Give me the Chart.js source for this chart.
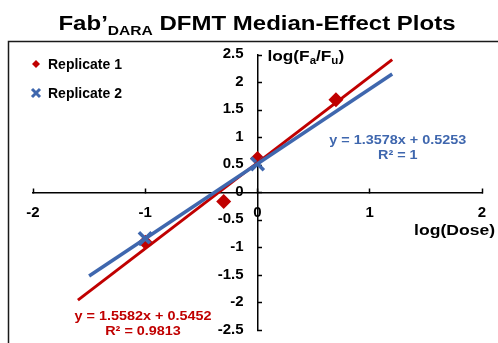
<!DOCTYPE html>
<html>
<head>
<meta charset="utf-8">
<script src="https://cdn.jsdelivr.net/npm/chart.js@4/dist/chart.umd.min.js"></script>
<style>
  html, body { margin: 0; padding: 0; background: #fff; }
  canvas { display: block; }
</style>
</head>
<body>
<canvas id="chart" width="498" height="343"></canvas>
<script>
// log(Dose) and log(Fa/Fu) for each replicate
const rep1Dose = [-1, -0.30103, 0, 0.69897];
const rep1Effect = [-0.90, -0.16, 0.62, 1.69];
const rep2Dose = [-1, 0];
const rep2Effect = [-0.8325, 0.5253];

// linear fits as printed beside each line
const seriesNames = ['Replicate 1', 'Replicate 2'];
const fitSlope = [1.5582, 1.3578];
const fitIntercept = [0.5452, 0.5253];
const fitR2 = ['0.9813', '1'];
const fitFrom = [-1.6, -1.5];
const fitTo = [1.2, 1.2];

// axis ranges and steps
const xRange = [-2, 2];
const yRange = [-2.5, 2.5];
const xStep = 1;
const yStep = 0.5;

const RED = '#C00000';
const BLUE = '#3F67AE';
const FONT = '"Liberation Sans", Arial, sans-serif';

function points(xs, ys) {
  return xs.map((x, i) => ({ x: x, y: ys[i] }));
}
function fitLine(k) {
  return [fitFrom[k], fitTo[k]].map(x => ({ x: x, y: fitSlope[k] * x + fitIntercept[k] }));
}

// draws a run of text pieces (with optional subscripts) on one baseline
function drawRuns(ctx, runs, x, y, align, stretch) {
  const sx = stretch || 1;
  let total = 0;
  runs.forEach(r => {
    ctx.font = 'bold ' + r.size + 'px ' + FONT;
    r.w = ctx.measureText(r.t).width;
    total += r.w;
  });
  const start = align === 'center' ? -total / 2 : align === 'right' ? -total : 0;
  ctx.save();
  ctx.translate(x, y);
  ctx.scale(sx, 1);
  ctx.textAlign = 'left';
  ctx.textBaseline = 'alphabetic';
  let cx = start;
  runs.forEach(r => {
    ctx.font = 'bold ' + r.size + 'px ' + FONT;
    ctx.fillText(r.t, cx, r.dy || 0);
    cx += r.w;
  });
  ctx.restore();
}

const decorations = {
  id: 'decorations',
  beforeDraw(chart) {
    const ctx = chart.ctx;
    // plot frame
    ctx.save();
    ctx.strokeStyle = '#1a1a1a';
    ctx.lineWidth = 1.5;
    ctx.strokeRect(8.5, 41.5, 600, 400);
    ctx.restore();
  },
  afterDraw(chart) {
    const ctx = chart.ctx;
    const xs = chart.scales.x, ys = chart.scales.y;
    const ax = xs.getPixelForValue(0);
    const ay = ys.getPixelForValue(0);
    ctx.save();
    ctx.fillStyle = '#000';

    // tick labels
    ctx.font = 'bold 15px ' + FONT;
    ctx.textAlign = 'center';
    ctx.textBaseline = 'middle';
    xs.ticks.forEach(t => ctx.fillText(String(t.value), xs.getPixelForValue(t.value), ay + 20));
    ctx.textAlign = 'right';
    ys.ticks.forEach(t => ctx.fillText(String(t.value), ax - 14, ys.getPixelForValue(t.value) - 1));

    // title
    drawRuns(ctx, [
      { t: 'Fab\u2019', size: 20 },
      { t: 'DARA', size: 13, dy: 5 },
      { t: ' DFMT Median-Effect Plots', size: 20 }
    ], 257, 30, 'center', 1.2);

    // axis titles
    const yTop = ys.getPixelForValue(yRange[1]);
    drawRuns(ctx, [
      { t: 'log(F', size: 15 },
      { t: 'a', size: 10, dy: 3 },
      { t: '/F', size: 15 },
      { t: 'u', size: 10, dy: 3 },
      { t: ')', size: 15 }
    ], ax + 10, yTop + 6, 'left', 1.15);
    drawRuns(ctx, [{ t: 'log(Dose)', size: 15 }], 495, ay + 42, 'right', 1.17);

    // legend
    const legendX = 36;
    const legendY = [64, 93];
    ctx.fillStyle = RED;
    ctx.beginPath();
    ctx.moveTo(legendX - 4, legendY[0]); ctx.lineTo(legendX, legendY[0] - 4);
    ctx.lineTo(legendX + 4, legendY[0]); ctx.lineTo(legendX, legendY[0] + 4);
    ctx.closePath(); ctx.fill();
    ctx.strokeStyle = BLUE; ctx.lineWidth = 3;
    ctx.beginPath();
    ctx.moveTo(legendX - 4, legendY[1] - 4); ctx.lineTo(legendX + 4, legendY[1] + 4);
    ctx.moveTo(legendX + 4, legendY[1] - 4); ctx.lineTo(legendX - 4, legendY[1] + 4);
    ctx.stroke();
    ctx.fillStyle = '#000';
    seriesNames.forEach((n, i) => drawRuns(ctx, [{ t: n, size: 14 }], 48, legendY[i] + 5, 'left', 1));

    // fit equations
    const eq = [
      { k: 0, x: -1.02, y: -2.22, color: RED },
      { k: 1, x: 1.25, y: 0.98, color: BLUE }
    ];
    eq.forEach(e => {
      const px = xs.getPixelForValue(e.x);
      const py = ys.getPixelForValue(e.y);
      ctx.fillStyle = e.color;
      drawRuns(ctx, [{ t: 'y = ' + fitSlope[e.k].toFixed(4) + 'x + ' + fitIntercept[e.k].toFixed(4), size: 12 }], px, py + 5, 'center', 1.2);
      drawRuns(ctx, [{ t: 'R\u00B2 = ' + fitR2[e.k], size: 12 }], px, py + 20, 'center', 1.2);
    });
    ctx.restore();
  }
};

new Chart(document.getElementById('chart'), {
  type: 'scatter',
  data: {
    datasets: [
      {
        label: seriesNames[0],
        data: points(rep1Dose, rep1Effect),
        pointStyle: 'rectRot',
        pointRadius: 7.5,
        pointBackgroundColor: RED,
        pointBorderColor: RED,
        pointBorderWidth: 0,
        order: 4
      },
      {
        label: seriesNames[1],
        data: points(rep2Dose, rep2Effect),
        pointStyle: 'crossRot',
        pointRadius: 9,
        pointBorderColor: BLUE,
        pointBorderWidth: 3.5,
        order: 3
      },
      {
        label: 'Linear (' + seriesNames[0] + ')',
        type: 'line',
        data: fitLine(0),
        borderColor: RED,
        borderWidth: 3,
        pointRadius: 0,
        fill: false,
        order: 2
      },
      {
        label: 'Linear (' + seriesNames[1] + ')',
        type: 'line',
        data: fitLine(1),
        borderColor: BLUE,
        borderWidth: 3.5,
        pointRadius: 0,
        fill: false,
        order: 1
      }
    ]
  },
  options: {
    responsive: false,
    animation: false,
    events: [],
    layout: { padding: { left: 33, right: 16, top: 55, bottom: 12 } },
    plugins: {
      legend: { display: false },
      title: { display: false },
      tooltip: { enabled: false }
    },
    scales: {
      x: {
        type: 'linear',
        min: xRange[0],
        max: xRange[1],
        position: { y: 0 },
        grid: { drawOnChartArea: false, drawTicks: true, tickLength: -5, tickColor: '#000', tickWidth: 1.5 },
        border: { display: true, color: '#000', width: 1.5 },
        ticks: { stepSize: xStep, display: false }
      },
      y: {
        type: 'linear',
        min: yRange[0],
        max: yRange[1],
        position: { x: 0 },
        grid: { drawOnChartArea: false, drawTicks: true, tickLength: -5, tickColor: '#000', tickWidth: 1.5 },
        border: { display: true, color: '#000', width: 1.5 },
        ticks: { stepSize: yStep, display: false }
      }
    }
  },
  plugins: [decorations]
});
</script>
</body>
</html>
